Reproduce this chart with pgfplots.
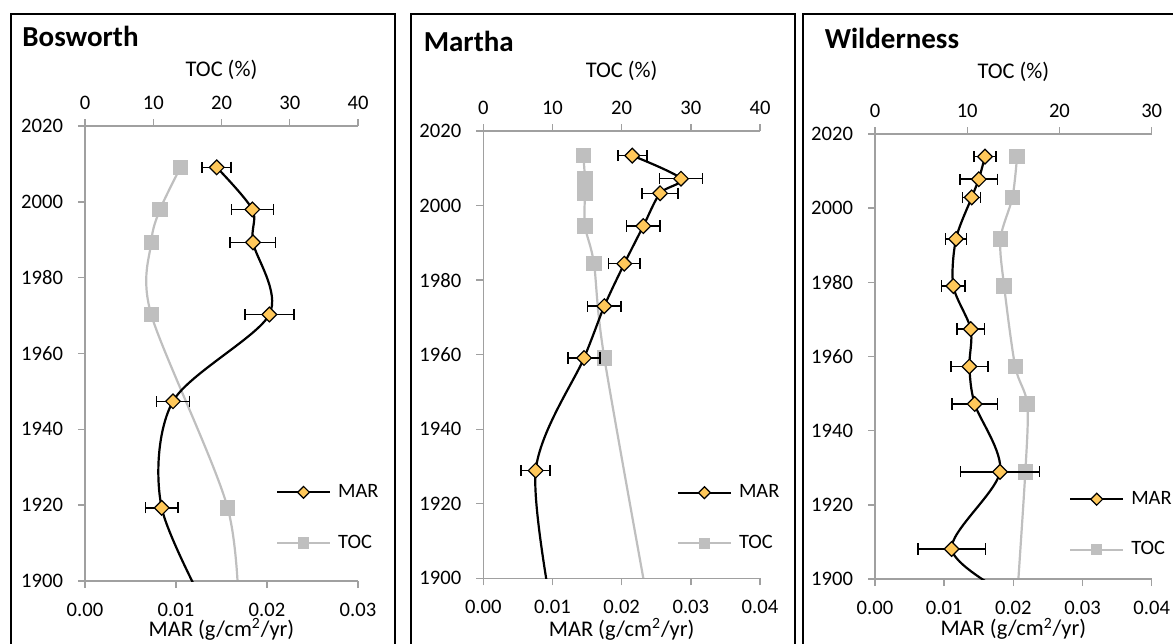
\documentclass[border=0pt]{standalone}
\usepackage{fontspec}
\setmainfont{Carlito}
\usepackage{pgfplots}
\usepackage{pgfplotstable}
\pgfplotsset{compat=1.18}

\definecolor{marfill}{HTML}{FFC85A}
\definecolor{tocgray}{HTML}{BFBFBF}
\definecolor{axgray}{HTML}{A0A0A0}

% last row of each table lies below 1900: it only shapes the clipped curve
\pgfplotstableread{
year val err
2009.1 0.01447 0.0016
1998.0 0.01839 0.0023
1989.3 0.01846 0.0025
1970.3 0.02026 0.0027
1947.4 0.00967 0.0018
1919.3 0.00843 0.0018
1885.0 0.01500 0
}\bosmar
\pgfplotstableread{
year val
2009.1 14.0
1998.0 11.0
1989.3 9.7
1970.3 9.7
1919.3 20.9
1885.0 22.6
}\bostoc
\pgfplotstableread{
year val err
2013.4 0.02154 0.0021
2007.2 0.02858 0.0031
2003.3 0.02555 0.0026
1994.5 0.02313 0.0024
1984.4 0.02038 0.0023
1973.0 0.01749 0.0024
1959.1 0.01456 0.0023
1928.9 0.00757 0.0021
1885.0 0.01050 0
}\marmar
\pgfplotstableread{
year val
2013.4 14.46
2007.2 14.7
2003.3 14.7
1994.5 14.7
1984.4 16.0
1959.1 17.5
1885.0 24.6
}\martoc
\pgfplotstableread{
year val err
2013.9 0.01590 0.0016
2007.8 0.01500 0.0027
2002.9 0.01398 0.0013
1991.7 0.01171 0.0015
1979.0 0.01132 0.0017
1967.4 0.01384 0.0020
1957.3 0.01365 0.0027
1947.2 0.01441 0.0033
1928.9 0.01807 0.0057
1908.1 0.01108 0.0049
1895.0 0.02000 0
}\wilmar
\pgfplotstableread{
year val
2013.9 15.4
2002.9 14.9
1991.7 13.6
1979.0 14.0
1957.3 15.2
1947.2 16.5
1928.9 16.3
1880.0 15.0
}\wiltoc

\pgfplotsset{
  panel/.style={
    scale only axis, anchor=south west,
    ymin=1900, ymax=2020, ytick={1900,1920,...,2020},
    tick align=outside, major tick length=3.5pt,
    every tick/.style={axgray, line width=0.7pt},
    axis line style={axgray, line width=0.7pt},
    tick label style={font=\fontsize{10.3}{12}\selectfont, text=black},
    label style={font=\fontsize{11.2}{13}\selectfont},
    /pgf/number format/assume math mode=true,
  },
  tocaxis/.style={panel, axis x line*=top, hide y axis, xmin=0,
    xticklabel style={yshift=1.2pt}},
  maraxis/.style={panel, axis x line*=bottom, axis y line*=left, xmin=0,
    scaled x ticks=false,
    xticklabel style={yshift=-4pt, /pgf/number format/.cd, fixed, fixed zerofill, precision=2},
    yticklabel style={xshift=-4pt, /pgf/number format/1000 sep={}},
    xlabel={MAR (g/cm\textsuperscript{2}/yr)},
    legend style={draw=none, fill=none, anchor=north west, inner sep=0pt,
      font=\fontsize{10.2}{12}\selectfont, row sep=14.2pt, column sep=2pt,
      nodes={inner sep=1.5pt}},
    legend cell align=left,
    legend image code/.code={
      \draw[##1] (0pt,0pt) -- (26.5pt,0pt);
      \draw[##1, only marks] plot coordinates {(13.25pt,0pt)};
    },
  },
  tocline/.style={tocgray, line width=1.1pt, smooth},
  tocmark/.style={only marks, tocgray, mark=square*, mark size=3.6pt,
    mark options={draw=tocgray, fill=tocgray, line width=0pt}},
  marline/.style={black, line width=1.1pt, smooth},
  marmark/.style={only marks, mark=square*, mark size=2.6pt,
    mark options={rotate=45, fill=marfill, draw=black, line width=0.6pt},
    error bars/x dir=both, error bars/x explicit,
    error bars/error bar style={black, line width=0.75pt},
    error bars/error mark options={black, line width=0.75pt, mark size=2.8pt, rotate=90}},
  marleg/.style={black, line width=1.1pt, mark=square*, mark size=2.1pt,
    mark options={rotate=45, fill=marfill, draw=black, line width=0.6pt}},
  tocleg/.style={tocgray, line width=1.1pt, mark=square*, mark size=2.6pt,
    mark options={draw=tocgray, fill=tocgray, line width=0pt}},
}

\begin{document}
\begin{tikzpicture}

% ---------- Bosworth
\begin{axis}[tocaxis, at={(42.5pt,-290.5pt)}, width=136.5pt, height=227.5pt,
  xmax=40, xtick={0,10,...,40}, xlabel={TOC (\%)},
  xlabel style={at={(axis description cs:0.5,1.108)}, anchor=base}]
  \addplot[tocline] table[x=val, y=year] {\bostoc};
  \addplot[tocmark, restrict y to domain=1899:2021] table[x=val, y=year] {\bostoc};
\end{axis}
\begin{axis}[maraxis, at={(42.5pt,-290.5pt)}, width=136.5pt, height=227.5pt,
  xmax=0.03, xtick={0,0.01,0.02,0.03},
  xlabel style={at={(axis description cs:0.5,-0.121)}, anchor=base},
  legend style={at={(axis description cs:0.698,0.22)}}]
  \addplot[marline, forget plot] table[x=val, y=year] {\bosmar};
  \addplot[marmark, forget plot, restrict y to domain=1899:2021]
    table[x=val, y=year, x error=err] {\bosmar};
  \addlegendimage{marleg}\addlegendentry{MAR}
  \addlegendimage{tocleg}\addlegendentry{TOC}
\end{axis}

% ---------- Martha
\begin{axis}[tocaxis, at={(241.65pt,-289.15pt)}, width=138.35pt, height=223.65pt,
  xmax=40, xtick={0,10,...,40}, xlabel={TOC (\%)},
  xlabel style={at={(axis description cs:0.5,1.120)}, anchor=base}]
  \addplot[tocline] table[x=val, y=year] {\martoc};
  \addplot[tocmark, restrict y to domain=1899:2021] table[x=val, y=year] {\martoc};
\end{axis}
\begin{axis}[maraxis, at={(241.65pt,-289.15pt)}, width=138.35pt, height=223.65pt,
  xmax=0.04, xtick={0,0.01,0.02,0.03,0.04},
  xlabel style={at={(axis description cs:0.5,-0.129)}, anchor=base},
  legend style={at={(axis description cs:0.698,0.217)}}]
  \addplot[marline, forget plot] table[x=val, y=year] {\marmar};
  \addplot[marmark, forget plot, restrict y to domain=1899:2021]
    table[x=val, y=year, x error=err] {\marmar};
  \addlegendimage{marleg}\addlegendentry{MAR}
  \addlegendimage{tocleg}\addlegendentry{TOC}
\end{axis}

% ---------- Wilderness
\begin{axis}[tocaxis, at={(437.5pt,-289.5pt)}, width=138.35pt, height=222.5pt,
  xmax=30, xtick={0,10,...,30}, xlabel={TOC (\%)},
  xlabel style={at={(axis description cs:0.5,1.124)}, anchor=base}]
  \addplot[tocline] table[x=val, y=year] {\wiltoc};
  \addplot[tocmark, restrict y to domain=1899:2021] table[x=val, y=year] {\wiltoc};
\end{axis}
\begin{axis}[maraxis, at={(437.5pt,-289.5pt)}, width=138.35pt, height=222.5pt,
  xmax=0.04, xtick={0,0.01,0.02,0.03,0.04},
  xlabel style={at={(axis description cs:0.5,-0.128)}, anchor=base},
  legend style={at={(axis description cs:0.700,0.205)}}]
  \addplot[marline, forget plot] table[x=val, y=year] {\wilmar};
  \addplot[marmark, forget plot, restrict y to domain=1899:2021]
    table[x=val, y=year, x error=err] {\wilmar};
  \addlegendimage{marleg}\addlegendentry{MAR}
  \addlegendimage{tocleg}\addlegendentry{TOC}
\end{axis}

% panel frames and titles
\draw[line width=1pt] (5.5pt,-400pt) -- (5.5pt,-7pt) -- (197.5pt,-7pt) -- (197.5pt,-400pt);
\draw[line width=1pt] (205.35pt,-400pt) -- (205.35pt,-7pt) -- (397.5pt,-7pt) -- (397.5pt,-400pt);
\draw[line width=1pt] (401.35pt,-400pt) -- (401.35pt,-7pt) -- (620pt,-7pt);
\node[anchor=base west, inner sep=0pt, font=\bfseries\fontsize{14.5}{16}\selectfont] at (11pt,-23.3pt) {Bosworth};
\node[anchor=base west, inner sep=0pt, font=\bfseries\fontsize{14.5}{16}\selectfont] at (211.7pt,-25.8pt) {Martha};
\node[anchor=base west, inner sep=0pt, font=\bfseries\fontsize{14.5}{16}\selectfont] at (412.2pt,-24.2pt) {Wilderness};

\pgfresetboundingbox
\useasboundingbox (0pt,0pt) rectangle (586.5pt,-321.5pt);
\end{tikzpicture}
\end{document}
